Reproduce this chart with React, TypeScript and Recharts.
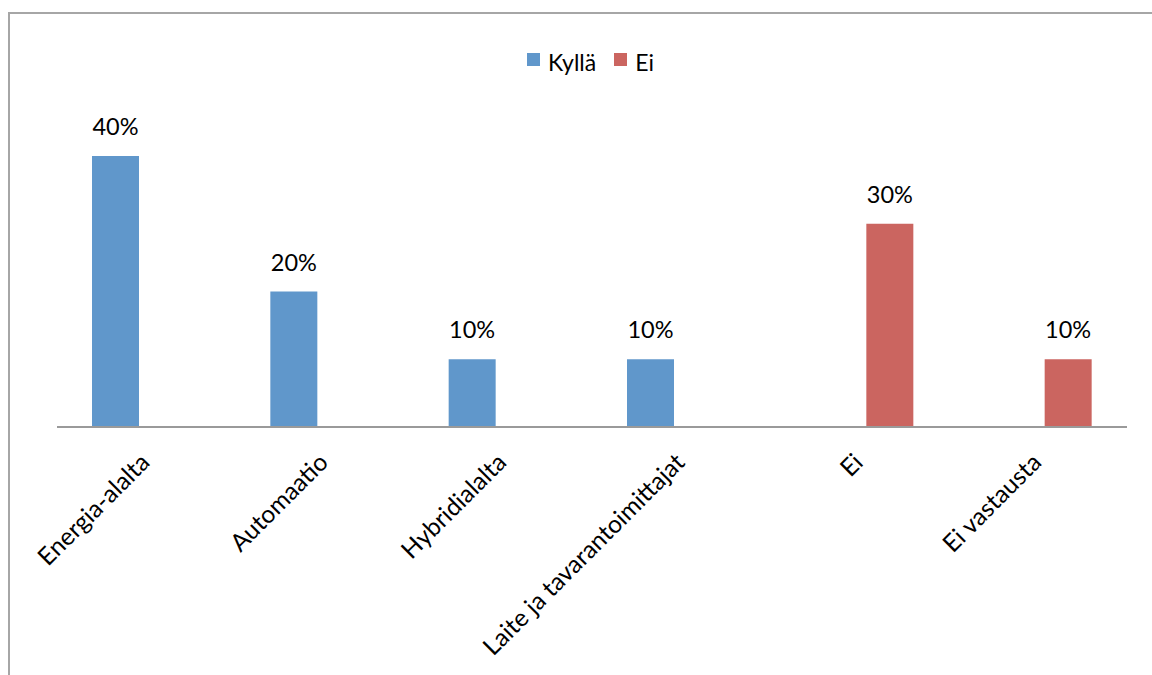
import { BarChart, Bar, XAxis, YAxis, LabelList } from 'recharts';

const CATEGORIES = ['Energia-alalta', 'Automaatio', 'Hybridialalta', 'Laite ja tavarantoimittajat', 'Ei', 'Ei vastausta'];
const KYLLA = [40, 20, 10, 10, null, null];
const EI = [null, null, null, null, 30, 10];
const SERIES = [
  { key: 'kylla', name: 'Kyllä', color: '#6097CB' },
  { key: 'ei', name: 'Ei', color: '#CB6560' },
];

const data = CATEGORIES.map((name, i) => ({ name, kylla: KYLLA[i], ei: EI[i] }));

const FONT = 'Lato, sans-serif';
const pct = (v: any) => (v == null ? '' : `${v}%`);

function CategoryTick(props: any) {
  const { x, y, payload } = props;
  return (
    <g transform={`translate(${x + 5},${y + 37})`}>
      <text x={0} y={0} transform="rotate(-45)" textAnchor="end" fill="#000" fontSize={24.5} fontFamily={FONT}>
        {payload.value}
      </text>
    </g>
  );
}

export default function App() {
  return (
    <div style={{ position: 'absolute', left: 0, top: 0, width: 1152, height: 675, overflow: 'hidden', background: '#fff', fontFamily: FONT }}>
      <div style={{ position: 'absolute', left: 8, top: 12, width: 1200, height: 700, borderLeft: '2px solid #a6a6a6', borderTop: '2px solid #a6a6a6' }} />
      <div style={{ position: 'absolute', left: 527, top: 51, display: 'flex', alignItems: 'flex-start', fontSize: 23, lineHeight: '23px' }}>
        {SERIES.map((s) => (
          <div key={s.key} style={{ display: 'flex', alignItems: 'flex-start', marginRight: 18 }}>
            <div style={{ width: 13, height: 13, background: s.color, marginTop: 2, marginRight: 8 }} />
            <span>{s.name}</span>
          </div>
        ))}
      </div>
      <div style={{ position: 'absolute', left: 0, top: 0 }}>
        <BarChart width={1152} height={675} data={data} margin={{ top: 156, right: 25, bottom: 0, left: 57 }} barSize={47} barGap={14}>
          <YAxis hide domain={[0, 40]} />
          <XAxis
            dataKey="name"
            height={248}
            interval={0}
            tickLine={false}
            tickSize={0}
            tickMargin={0}
            axisLine={{ stroke: '#9a9a9a', strokeWidth: 2 }}
            tick={<CategoryTick />}
          />
          {SERIES.map((s) => (
            <Bar key={s.key} dataKey={s.key} name={s.name} fill={s.color} isAnimationActive={false}>
              <LabelList dataKey={s.key} position="top" offset={21} formatter={pct} fill="#000" fontSize={23.5} fontFamily={FONT} />
            </Bar>
          ))}
        </BarChart>
      </div>
    </div>
  );
}
